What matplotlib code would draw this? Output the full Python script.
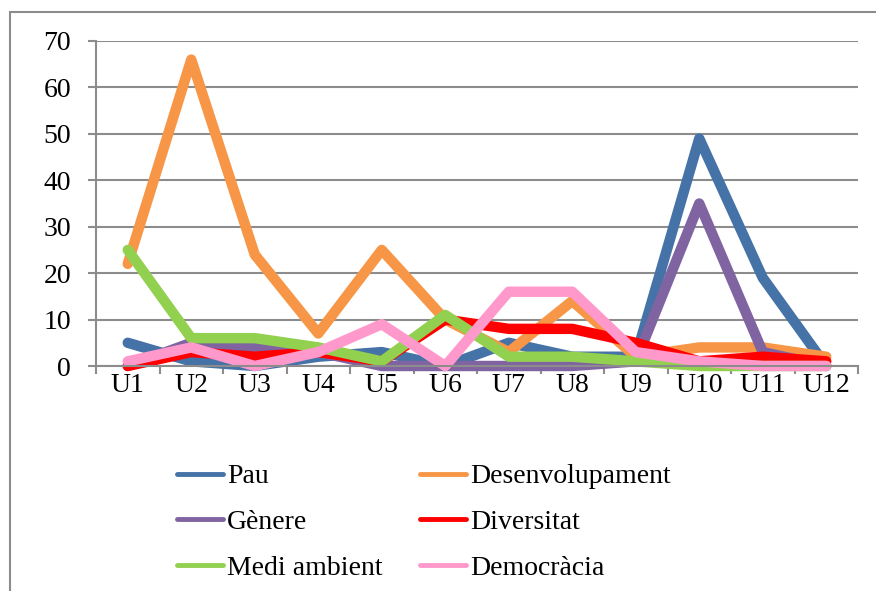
import matplotlib.pyplot as plt
import numpy as np
from matplotlib.patches import Rectangle

units = ['U1', 'U2', 'U3', 'U4', 'U5', 'U6', 'U7', 'U8', 'U9', 'U10', 'U11', 'U12']
pau = [5, 1, 0, 2, 3, 0, 5, 2, 2, 49, 19, 0]
desenvolupament = [22, 66, 24, 7, 25, 10, 3, 14, 2, 4, 4, 2]
genere = [0, 5, 4, 3, 0, 0, 0, 0, 1, 35, 3, 0]
diversitat = [0, 3, 2, 3, 1, 10, 8, 8, 5, 1, 2, 1]
medi_ambient = [25, 6, 6, 4, 1, 11, 2, 2, 1, 0, 0, 0]
democracia = [1, 4, 0, 3, 9, 0, 16, 16, 3, 1, 0, 0]

series = [
    ('Pau', pau, '#4572A7'),
    ('Desenvolupament', desenvolupament, '#F79646'),
    ('Gènere', genere, '#8064A2'),
    ('Diversitat', diversitat, '#FF0000'),
    ('Medi ambient', medi_ambient, '#92D050'),
    ('Democràcia', democracia, '#FF99CC'),
]

plt.rcParams['font.family'] = ['Liberation Serif', 'DejaVu Serif']
grid_col = '#8C8C8C'
fsize = 20

fig = plt.figure(figsize=(8.76, 5.91), dpi=100)
ax = fig.add_axes([96 / 876, 1 - 366 / 591, 762 / 876, 325 / 591])

# outer chart border
fig.add_artist(Rectangle((10 / 876, -0.1), 1.0, 1 - 12 / 591 + 0.1, transform=fig.transFigure,
                         fill=False, edgecolor=grid_col, linewidth=1.5))

x = np.arange(len(units))
lines = {}
for name, vals, col in series:
    ln, = ax.plot(x, vals, color=col, linewidth=7.5, solid_capstyle='round',
                  solid_joinstyle='round', label=name, clip_on=False)
    lines[name] = ln

ax.set_xlim(-0.5, len(units) - 0.5)
ax.set_ylim(0, 70)
ax.set_yticks(np.arange(0, 71, 10))
ax.set_xticks(x)
ax.set_xticklabels(units)
ax.set_xticks(np.arange(-0.5, len(units), 1), minor=True)
ax.yaxis.grid(True, color=grid_col, linewidth=1.5)
ax.set_axisbelow(True)
for s in ['top', 'right']:
    ax.spines[s].set_visible(False)
for s in ['left', 'bottom']:
    ax.spines[s].set_color(grid_col)
    ax.spines[s].set_linewidth(1.5)
ax.tick_params(axis='y', length=6, width=1.5, color=grid_col, pad=12, labelsize=fsize)
ax.tick_params(axis='x', which='major', length=0, pad=5, labelsize=fsize)
ax.tick_params(axis='x', which='minor', length=6, width=1.5, color=grid_col)

order = ['Pau', 'Gènere', 'Medi ambient', 'Desenvolupament', 'Diversitat', 'Democràcia']
leg = fig.legend([lines[n] for n in order], order, ncol=2, frameon=False, fontsize=fsize,
                 loc='upper left', bbox_to_anchor=(163 / 876, 1 - 450 / 591), borderpad=0,
                 handlelength=1.65, handletextpad=0.15, columnspacing=1.35, labelspacing=0.73)
for h in leg.get_lines():
    h.set_linewidth(3.5)

plt.savefig('out.png', dpi=100)
